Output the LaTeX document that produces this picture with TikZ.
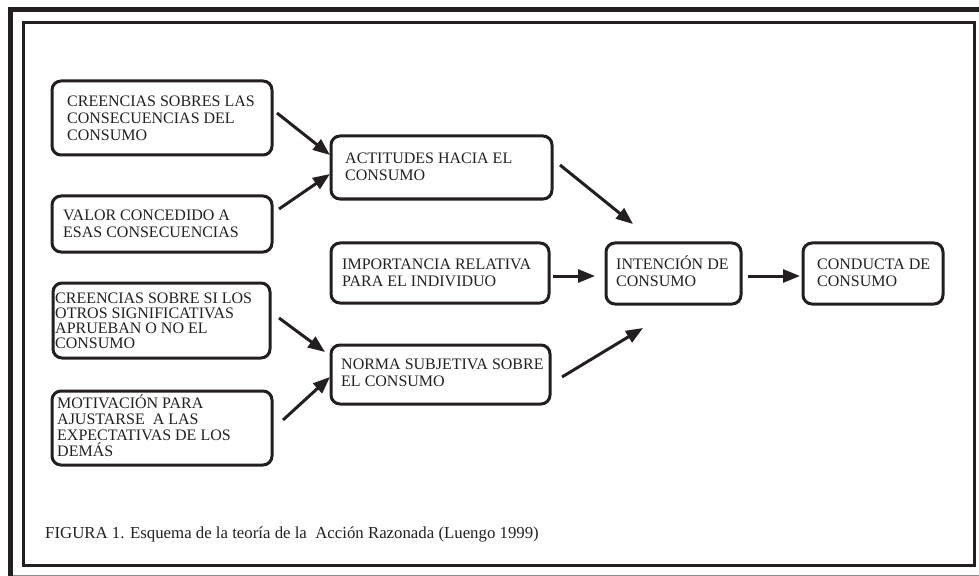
\documentclass[tikz,border=0pt]{standalone}
\usepackage{fontspec}
\setmainfont{Liberation Serif}
\usetikzlibrary{arrows.meta,calc}
\definecolor{ink}{RGB}{35,31,32}
\newcommand\firstline{\rule{0pt}{15bp}}
\begin{document}
\begin{tikzpicture}[x=1bp,y=-1bp,
  box/.style={draw=ink, line width=3bp, rounded corners=9bp, anchor=north west,
              inner sep=0pt, outer sep=0pt},
  boxtext/.style={anchor=north west, inner sep=0pt, align=left, text=ink,
              font=\fontsize{16bp}{17.4bp}\selectfont},
  tighttext/.style={boxtext, font=\fontsize{16bp}{15.5bp}\selectfont},
  arr/.style={draw=ink, line width=3bp, -{Triangle[length=17bp,width=13bp]}},
  captext/.style={anchor=base west, inner sep=0pt, text=ink,
              font=\fontsize{16.8bp}{20bp}\selectfont},
]
\useasboundingbox (0,0) rectangle (979,576);

% outer and inner frame
\draw[ink, line width=5bp] (10.8,576) -- (10.8,9.5) -- (979,9.5);
\draw[black!45, line width=1bp] (13,575.3) -- (979,575.3);
\draw[ink, line width=3bp] (23.5,22.5) rectangle (974,565);

% boxes
\node[box, minimum width=220bp, minimum height=74bp] (b1) at (52,81) {};
\node[box, minimum width=220bp, minimum height=56bp] (b2) at (52,196) {};
\node[box, minimum width=217bp, minimum height=75bp] (b3) at (53,283) {};
\node[box, minimum width=220bp, minimum height=74bp] (b4) at (52,391) {};
\node[box, minimum width=221bp, minimum height=63bp] (act) at (331,136) {};
\node[box, minimum width=218bp, minimum height=60bp] (imp) at (331,243) {};
\node[box, minimum width=219bp, minimum height=59bp] (nor) at (331,345) {};
\node[box, minimum width=135bp, minimum height=61bp] (int) at (606,243) {};
\node[box, minimum width=140bp, minimum height=61bp] (con) at (803,243) {};

% box texts (first baseline 15bp below the node top)
\node[boxtext] (t1) at (67,91) {\firstline CREENCIAS SOBRES LAS\\CONSECUENCIAS DEL\\CONSUMO};
\node[boxtext] (t2) at (63,205) {\firstline VALOR CONCEDIDO A\\ESAS CONSECUENCIAS};
\node[tighttext, font=\fontsize{16bp}{15bp}\selectfont] (t3) at (55,288) {\firstline CREENCIAS SOBRE SI LOS\\OTROS SIGNIFICATIVAS\\APRUEBAN O NO EL\\CONSUMO};
\node[tighttext, font=\fontsize{16bp}{16.2bp}\selectfont] (t4) at (57,393) {\firstline MOTIVACIÓN PARA\\AJUSTARSE\ \ A LAS\\EXPECTATIVAS DE LOS\\DEMÁS};
\node[boxtext] (t5) at (345,148) {\firstline ACTITUDES HACIA EL\\CONSUMO};
\node[boxtext] (t6) at (342,254) {\firstline IMPORTANCIA RELATIVA\\PARA EL INDIVIDUO};
\node[boxtext] (t7) at (341,354) {\firstline NORMA SUBJETIVA SOBRE\\EL CONSUMO};
\node[boxtext] (t8) at (616,254) {\firstline INTENCIÓN DE\\CONSUMO};
\node[boxtext] (t9) at (817,254) {\firstline CONDUCTA DE\\CONSUMO};

% connectors
\draw[arr] ($(b1.north east)+(5,32)$)  -- ($(act.north west)+(-1,19)$);
\draw[arr] ($(b2.north east)+(7,13)$)  -- ($(act.north west)+(-1,38)$);
\draw[arr] ($(b3.north east)+(9,35)$)  -- ($(nor.north west)+(-6,7)$);
\draw[arr] ($(b4.north east)+(11,29)$) -- ($(nor.north west)+(-1,32)$);
\draw[arr] ($(act.north east)+(8,29)$) -- ($(int.north west)+(27,-19)$);
\draw[arr] ($(imp.north east)+(4,33)$) -- ($(int.north west)+(-11,33)$);
\draw[arr] ($(nor.north east)+(12,32)$) -- ($(int.south west)+(37,24)$);
\draw[arr] ($(int.north east)+(7,33)$) -- ($(con.north west)+(-3,33)$);

% caption
\node[captext] (cap) at (45,538) {FIGURA 1. Esquema de la teoría de la\ \ Acción Razonada (Luengo 1999)};
\end{tikzpicture}
\end{document}
